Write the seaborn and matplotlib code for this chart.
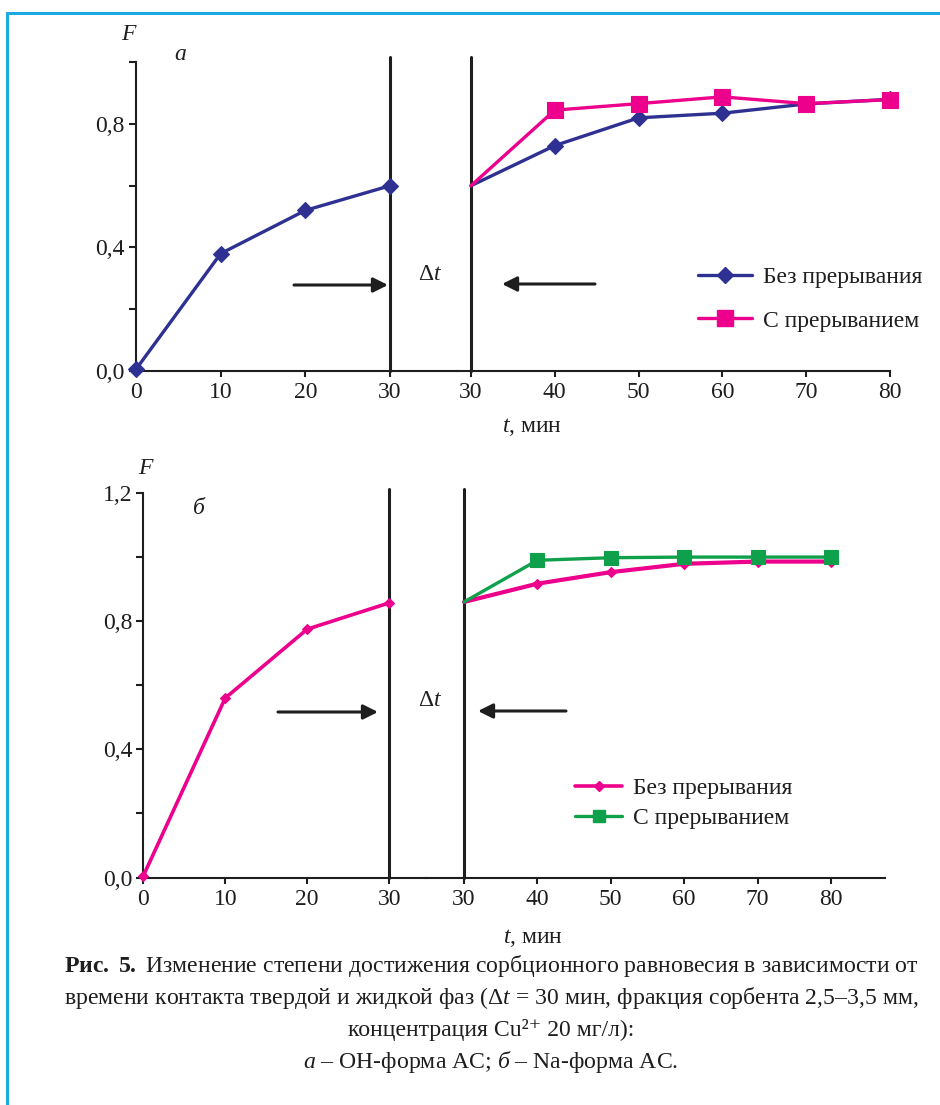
import matplotlib
matplotlib.use("Agg")
import matplotlib.pyplot as plt
from matplotlib.lines import Line2D
import seaborn as sns

# panel "а" (OH-form), F vs t; after the pause the time axis restarts at 30
A_T_BEFORE = [0, 10, 20, 30]
A_F_BEFORE = [0.005, 0.38, 0.52, 0.60]
A_T_AFTER = [30, 40, 50, 60, 70, 80]
A_F_NOBREAK = [0.60, 0.73, 0.82, 0.835, 0.865, 0.88]
A_F_BREAK = [0.60, 0.845, 0.866, 0.888, 0.866, 0.879]

# panel "б" (Na-form)
B_T_BEFORE = [0, 10, 20, 30]
B_F_BEFORE = [0.005, 0.56, 0.775, 0.857]
B_T_AFTER = [30, 40, 50, 60, 70, 80]
B_F_NOBREAK = [0.86, 0.917, 0.953, 0.979, 0.986, 0.986]
B_F_BREAK = [0.86, 0.99, 0.998, 1.0, 1.0, 1.0]

LEGEND = ["Без прерывания", "С прерыванием"]
X_TICKS_BEFORE = [0, 10, 20, 30]
X_TICKS_AFTER = [30, 40, 50, 60, 70, 80]
A_YTICKS = [0.0, 0.2, 0.4, 0.6, 0.8, 1.0]
A_YLABELS = ["0,0", "", "0,4", "", "0,8", ""]
B_YTICKS = [0.0, 0.2, 0.4, 0.6, 0.8, 1.0, 1.2]
B_YLABELS = ["0,0", "", "0,4", "", "0,8", "", "1,2"]
PAUSE_T = 30

CAPTION = [
    r"$\mathbf{Рис.}$ $\mathbf{5.}$ Изменение степени достижения сорбционного равновесия в зависимости от",
    r"времени контакта твердой и жидкой фаз ($\Delta t$ = 30 мин, фракция сорбента 2,5–3,5 мм,",
    "концентрация Cu²⁺ 20 мг/л):",
    r"$\mathit{а}$ – ОН-форма АС; $\mathit{б}$ – Na-форма АС.",
]

BLUE = "#2E3192"
PINK = "#EC008C"
GREEN = "#0FA04B"
INK = "#1e1e1e"

W, H = 940, 1105

sns.set_style("ticks")
plt.rcParams["font.family"] = ["Liberation Serif", "DejaVu Serif"]
plt.rcParams["mathtext.fontset"] = "custom"
plt.rcParams["mathtext.rm"] = "Liberation Serif"
plt.rcParams["mathtext.it"] = "Liberation Serif:italic"
plt.rcParams["mathtext.bf"] = "Liberation Serif:bold"


def fbox(x0, y0, x1, y1):
    return [x0 / W, 1 - y1 / H, (x1 - x0) / W, (y1 - y0) / H]


def fp(x, y):
    return (x / W, 1 - y / H)


def style_axes(ax, xlim, ylim, xticks, yticks, ylabels, show_y):
    ax.set_xlim(*xlim)
    ax.set_ylim(*ylim)
    ax.set_xticks(xticks)
    ax.set_xticklabels([str(t) for t in xticks])
    ax.set_yticks(yticks)
    ax.set_yticklabels(ylabels)
    ax.set_xlabel("")
    ax.set_ylabel("")
    ax.set_facecolor("none")
    for s in ["top", "right"]:
        ax.spines[s].set_visible(False)
    for s in ["bottom", "left"]:
        ax.spines[s].set_linewidth(1.5)
        ax.spines[s].set_color(INK)
    ax.tick_params(axis="x", direction="out", length=4, width=1.5, color=INK,
                   labelsize=17, pad=4, labelcolor=INK)
    ax.tick_params(axis="y", direction="out", length=5, width=1.5, color=INK,
                   labelsize=17, pad=3, labelcolor=INK)
    if not show_y:
        ax.spines["left"].set_visible(False)
        ax.tick_params(axis="y", left=False, labelleft=False)


def draw(ax, t, f, color, marker, ms, lw, z, skip_first=False):
    kw = {"markevery": list(range(1, len(t)))} if skip_first else {}
    sns.lineplot(x=t, y=f, ax=ax, color=color, marker=marker, markersize=ms,
                 markeredgecolor=color, markeredgewidth=0.8, linewidth=lw,
                 clip_on=False, zorder=z, legend=False, **kw)


fig = plt.figure(figsize=(W / 100, H / 100), dpi=100)
arrow = dict(arrowstyle="-|>", lw=2.2, color=INK, mutation_scale=22, shrinkA=0, shrinkB=0)


def add_arrow(x0, y0, x1, y1):
    fig.add_artist(plt.Annotation("", xy=fp(x1, y1), xytext=fp(x0, y0),
                                  xycoords="figure fraction", arrowprops=arrow))


# ---------- panel а ----------
axl = fig.add_axes(fbox(136, 62.3, 457, 370.8))
axr = fig.add_axes(fbox(457, 62.3, 890, 370.8))
style_axes(axl, (0, 37.9), (0, 1.0), X_TICKS_BEFORE, A_YTICKS, A_YLABELS, True)
style_axes(axr, (28.33, 80), (0, 1.0), X_TICKS_AFTER, A_YTICKS, A_YLABELS, False)
for ax in (axl, axr):
    ax.axvline(PAUSE_T, ymin=0, ymax=1.017, color=INK, lw=2.2, clip_on=False, zorder=2)

draw(axl, A_T_BEFORE, A_F_BEFORE, BLUE, "D", 8.6, 2.4, 4)
draw(axr, A_T_AFTER, A_F_NOBREAK, BLUE, "D", 8.6, 2.4, 4, skip_first=True)
draw(axr, A_T_AFTER, A_F_BREAK, PINK, "s", 11.5, 2.4, 5, skip_first=True)

handles_a = [
    Line2D([], [], color=BLUE, marker="D", markersize=8.2, lw=2.4),
    Line2D([], [], color=PINK, marker="s", markersize=11.5, lw=2.4),
]
fig.legend(handles_a, LEGEND, loc="center left", bbox_to_anchor=fp(698, 299),
           frameon=False, fontsize=17, handlelength=2.3, handletextpad=0.45,
           labelspacing=0.95, borderpad=0, borderaxespad=0, labelcolor=INK)

fig.text(*fp(128, 35), "F", fontsize=17, style="italic", ha="center", va="center", color=INK)
fig.text(*fp(180, 55), "а", fontsize=17, style="italic", ha="center", va="center", color=INK)
fig.text(*fp(430, 274), r"$\Delta t$", fontsize=17, ha="center", va="center", color=INK)
fig.text(*fp(532, 427), r"$t$, мин", fontsize=17, ha="center", va="center", color=INK)

add_arrow(294, 285, 388, 285)
add_arrow(595, 284, 502, 284)

# ---------- panel б ----------
bxl = fig.add_axes(fbox(143.3, 493, 426, 877.5))
bxr = fig.add_axes(fbox(426, 493, 885, 877.5))
style_axes(bxl, (0, 34.5), (0, 1.2), X_TICKS_BEFORE, B_YTICKS, B_YLABELS, True)
style_axes(bxr, (24.82, 87.36), (0, 1.2), X_TICKS_AFTER, B_YTICKS, B_YLABELS, False)
for ax in (bxl, bxr):
    ax.axvline(PAUSE_T, ymin=0, ymax=1.01, color=INK, lw=2.2, clip_on=False, zorder=2)

draw(bxl, B_T_BEFORE, B_F_BEFORE, PINK, "D", 5.5, 2.6, 4)
draw(bxr, B_T_AFTER, B_F_NOBREAK, PINK, "D", 5.5, 3.0, 4, skip_first=True)
draw(bxr, B_T_AFTER, B_F_BREAK, GREEN, "s", 10.5, 2.4, 5, skip_first=True)

handles_b = [
    Line2D([], [], color=PINK, marker="D", markersize=5.5, lw=2.6),
    Line2D([], [], color=GREEN, marker="s", markersize=9, lw=2.4),
]
fig.legend(handles_b, LEGEND, loc="center left", bbox_to_anchor=fp(575, 803.5),
           frameon=False, fontsize=17, handlelength=2.0, handletextpad=0.45,
           labelspacing=0.35, borderpad=0, borderaxespad=0, labelcolor=INK)

fig.text(*fp(145, 468), "F", fontsize=17, style="italic", ha="center", va="center", color=INK)
fig.text(*fp(199, 509), "б", fontsize=17, style="italic", ha="center", va="center", color=INK)
fig.text(*fp(430, 700), r"$\Delta t$", fontsize=17, ha="center", va="center", color=INK)
fig.text(*fp(533, 938), r"$t$, мин", fontsize=17, ha="center", va="center", color=INK)

add_arrow(278, 712, 378, 712)
add_arrow(566, 711, 478, 711)

# ---------- caption ----------
for i, line in enumerate(CAPTION):
    fig.text(*fp(491, 966 + i * 32), line, fontsize=17.1, ha="center", va="center", color=INK)

# page frame (left and top rule)
frame = "#1CA8E0"
fig.add_artist(Line2D([7 / W, 7 / W], [0, 1 - 12.5 / H], color=frame, lw=2.2))
fig.add_artist(Line2D([7 / W, 1], [1 - 12.5 / H, 1 - 12.5 / H], color=frame, lw=2.2))

fig.savefig("out.png", dpi=100, facecolor="white")
